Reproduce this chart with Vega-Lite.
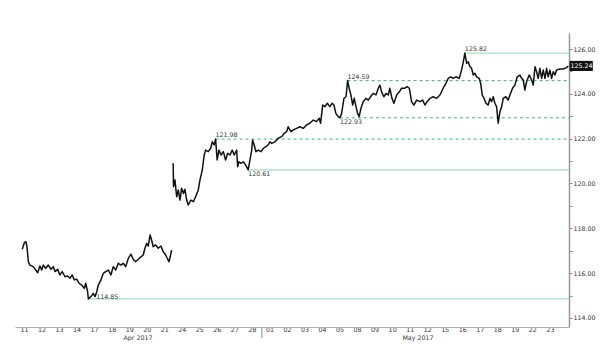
{
  "$schema": "https://vega.github.io/schema/vega-lite/v6.json",
  "width": 554,
  "height": 294,
  "autosize": "none",
  "padding": {"left": 15, "top": 33, "right": 31, "bottom": 27},
  "background": "white",
  "config": {"view": {"stroke": null}, "font": "Liberation Sans"},
  "datasets": {
    "price": [
      {"seg": 1, "t": -0.10, "p": 117.06}, {"seg": 1, "t": 0.02, "p": 117.36}, {"seg": 1, "t": 0.11, "p": 117.40}, {"seg": 1, "t": 0.17, "p": 117.18},
      {"seg": 1, "t": 0.25, "p": 116.51}, {"seg": 1, "t": 0.34, "p": 116.36}, {"seg": 1, "t": 0.53, "p": 116.29}, {"seg": 1, "t": 0.67, "p": 116.14},
      {"seg": 1, "t": 0.78, "p": 116.02}, {"seg": 1, "t": 0.91, "p": 116.32}, {"seg": 1, "t": 1.01, "p": 116.14}, {"seg": 1, "t": 1.10, "p": 116.36},
      {"seg": 1, "t": 1.24, "p": 116.22}, {"seg": 1, "t": 1.39, "p": 116.36}, {"seg": 1, "t": 1.54, "p": 116.17}, {"seg": 1, "t": 1.67, "p": 116.29},
      {"seg": 1, "t": 1.77, "p": 116.07}, {"seg": 1, "t": 1.92, "p": 116.17}, {"seg": 1, "t": 2.05, "p": 115.92}, {"seg": 1, "t": 2.18, "p": 116.07},
      {"seg": 1, "t": 2.34, "p": 115.84}, {"seg": 1, "t": 2.49, "p": 115.87}, {"seg": 1, "t": 2.62, "p": 115.77}, {"seg": 1, "t": 2.75, "p": 115.92},
      {"seg": 1, "t": 2.87, "p": 115.70}, {"seg": 1, "t": 3.01, "p": 115.73}, {"seg": 1, "t": 3.14, "p": 115.55}, {"seg": 1, "t": 3.29, "p": 115.47},
      {"seg": 1, "t": 3.44, "p": 115.32}, {"seg": 1, "t": 3.52, "p": 115.55}, {"seg": 1, "t": 3.63, "p": 115.17}, {"seg": 1, "t": 3.67, "p": 114.85},
      {"seg": 1, "t": 3.82, "p": 114.95}, {"seg": 1, "t": 3.95, "p": 115.10}, {"seg": 1, "t": 4.05, "p": 114.95}, {"seg": 1, "t": 4.15, "p": 115.17},
      {"seg": 1, "t": 4.24, "p": 115.47}, {"seg": 1, "t": 4.39, "p": 115.70}, {"seg": 1, "t": 4.52, "p": 115.99}, {"seg": 1, "t": 4.66, "p": 116.07},
      {"seg": 1, "t": 4.81, "p": 116.14}, {"seg": 1, "t": 4.96, "p": 115.92}, {"seg": 1, "t": 5.09, "p": 116.29}, {"seg": 1, "t": 5.23, "p": 116.14},
      {"seg": 1, "t": 5.38, "p": 116.44}, {"seg": 1, "t": 5.53, "p": 116.36}, {"seg": 1, "t": 5.66, "p": 116.44}, {"seg": 1, "t": 5.80, "p": 116.29},
      {"seg": 1, "t": 5.95, "p": 116.66}, {"seg": 1, "t": 6.10, "p": 116.85}, {"seg": 1, "t": 6.23, "p": 116.62}, {"seg": 1, "t": 6.37, "p": 116.51},
      {"seg": 1, "t": 6.52, "p": 116.62}, {"seg": 1, "t": 6.67, "p": 116.73}, {"seg": 1, "t": 6.80, "p": 116.81}, {"seg": 1, "t": 6.90, "p": 117.11},
      {"seg": 1, "t": 7.00, "p": 117.33}, {"seg": 1, "t": 7.09, "p": 117.21}, {"seg": 1, "t": 7.19, "p": 117.70}, {"seg": 1, "t": 7.28, "p": 117.48},
      {"seg": 1, "t": 7.37, "p": 117.18}, {"seg": 1, "t": 7.51, "p": 117.26}, {"seg": 1, "t": 7.66, "p": 117.11}, {"seg": 1, "t": 7.81, "p": 117.21},
      {"seg": 1, "t": 7.94, "p": 116.96}, {"seg": 1, "t": 8.08, "p": 116.81}, {"seg": 1, "t": 8.20, "p": 116.62}, {"seg": 1, "t": 8.27, "p": 116.51},
      {"seg": 1, "t": 8.34, "p": 116.73}, {"seg": 1, "t": 8.42, "p": 117.03},
      {"seg": 2, "t": 8.51, "p": 120.90}, {"seg": 2, "t": 8.53, "p": 119.86}, {"seg": 2, "t": 8.61, "p": 120.16}, {"seg": 2, "t": 8.71, "p": 119.41},
      {"seg": 2, "t": 8.80, "p": 119.71}, {"seg": 2, "t": 8.90, "p": 119.26}, {"seg": 2, "t": 8.99, "p": 119.79}, {"seg": 2, "t": 9.09, "p": 119.56},
      {"seg": 2, "t": 9.18, "p": 119.74}, {"seg": 2, "t": 9.28, "p": 119.26}, {"seg": 2, "t": 9.37, "p": 119.04}, {"seg": 2, "t": 9.52, "p": 119.26},
      {"seg": 2, "t": 9.66, "p": 119.19}, {"seg": 2, "t": 9.79, "p": 119.41}, {"seg": 2, "t": 9.94, "p": 119.71}, {"seg": 2, "t": 10.04, "p": 120.16},
      {"seg": 2, "t": 10.17, "p": 120.60}, {"seg": 2, "t": 10.28, "p": 121.27}, {"seg": 2, "t": 10.36, "p": 121.49}, {"seg": 2, "t": 10.51, "p": 121.42},
      {"seg": 2, "t": 10.65, "p": 121.57}, {"seg": 2, "t": 10.74, "p": 121.86}, {"seg": 2, "t": 10.85, "p": 121.72}, {"seg": 2, "t": 10.93, "p": 121.98},
      {"seg": 2, "t": 11.02, "p": 121.05}, {"seg": 2, "t": 11.12, "p": 121.49}, {"seg": 2, "t": 11.24, "p": 121.27}, {"seg": 2, "t": 11.37, "p": 121.42},
      {"seg": 2, "t": 11.50, "p": 121.05}, {"seg": 2, "t": 11.62, "p": 121.35}, {"seg": 2, "t": 11.75, "p": 121.27}, {"seg": 2, "t": 11.88, "p": 121.49},
      {"seg": 2, "t": 11.99, "p": 121.27}, {"seg": 2, "t": 12.13, "p": 121.49}, {"seg": 2, "t": 12.19, "p": 120.75}, {"seg": 2, "t": 12.26, "p": 120.97},
      {"seg": 2, "t": 12.38, "p": 120.90}, {"seg": 2, "t": 12.51, "p": 120.97}, {"seg": 2, "t": 12.64, "p": 120.83}, {"seg": 2, "t": 12.79, "p": 120.61},
      {"seg": 2, "t": 12.89, "p": 121.05}, {"seg": 2, "t": 12.99, "p": 121.49}, {"seg": 2, "t": 13.04, "p": 121.94}, {"seg": 2, "t": 13.13, "p": 121.72},
      {"seg": 2, "t": 13.23, "p": 121.42}, {"seg": 2, "t": 13.36, "p": 121.49}, {"seg": 2, "t": 13.52, "p": 121.42}, {"seg": 2, "t": 13.65, "p": 121.57},
      {"seg": 2, "t": 13.79, "p": 121.64}, {"seg": 2, "t": 13.93, "p": 121.72}, {"seg": 2, "t": 14.03, "p": 121.86}, {"seg": 2, "t": 14.13, "p": 121.79},
      {"seg": 2, "t": 14.32, "p": 121.86}, {"seg": 2, "t": 14.50, "p": 122.02}, {"seg": 2, "t": 14.70, "p": 122.09}, {"seg": 2, "t": 14.85, "p": 122.24},
      {"seg": 2, "t": 14.98, "p": 122.31}, {"seg": 2, "t": 15.07, "p": 122.53}, {"seg": 2, "t": 15.23, "p": 122.31}, {"seg": 2, "t": 15.36, "p": 122.39},
      {"seg": 2, "t": 15.55, "p": 122.46}, {"seg": 2, "t": 15.74, "p": 122.53}, {"seg": 2, "t": 15.93, "p": 122.46}, {"seg": 2, "t": 16.12, "p": 122.61},
      {"seg": 2, "t": 16.31, "p": 122.69}, {"seg": 2, "t": 16.50, "p": 122.83}, {"seg": 2, "t": 16.69, "p": 122.76}, {"seg": 2, "t": 16.84, "p": 122.91},
      {"seg": 2, "t": 16.92, "p": 122.69}, {"seg": 2, "t": 17.04, "p": 123.50}, {"seg": 2, "t": 17.17, "p": 123.43}, {"seg": 2, "t": 17.30, "p": 123.58},
      {"seg": 2, "t": 17.45, "p": 123.43}, {"seg": 2, "t": 17.58, "p": 123.58}, {"seg": 2, "t": 17.68, "p": 123.50}, {"seg": 2, "t": 17.79, "p": 123.13},
      {"seg": 2, "t": 17.93, "p": 122.98}, {"seg": 2, "t": 18.02, "p": 122.93}, {"seg": 2, "t": 18.12, "p": 123.13}, {"seg": 2, "t": 18.25, "p": 123.80},
      {"seg": 2, "t": 18.37, "p": 123.87}, {"seg": 2, "t": 18.46, "p": 124.59}, {"seg": 2, "t": 18.55, "p": 124.25}, {"seg": 2, "t": 18.65, "p": 123.95},
      {"seg": 2, "t": 18.75, "p": 123.50}, {"seg": 2, "t": 18.84, "p": 123.80}, {"seg": 2, "t": 18.94, "p": 123.43}, {"seg": 2, "t": 19.03, "p": 123.13},
      {"seg": 2, "t": 19.12, "p": 122.98}, {"seg": 2, "t": 19.22, "p": 123.35}, {"seg": 2, "t": 19.35, "p": 123.65}, {"seg": 2, "t": 19.51, "p": 123.80},
      {"seg": 2, "t": 19.64, "p": 123.72}, {"seg": 2, "t": 19.77, "p": 123.87}, {"seg": 2, "t": 19.92, "p": 124.02}, {"seg": 2, "t": 20.08, "p": 123.95},
      {"seg": 2, "t": 20.21, "p": 124.25}, {"seg": 2, "t": 20.30, "p": 124.39}, {"seg": 2, "t": 20.40, "p": 124.09}, {"seg": 2, "t": 20.53, "p": 123.87},
      {"seg": 2, "t": 20.65, "p": 124.02}, {"seg": 2, "t": 20.78, "p": 123.95}, {"seg": 2, "t": 20.87, "p": 124.25}, {"seg": 2, "t": 20.99, "p": 123.80},
      {"seg": 2, "t": 21.10, "p": 123.58}, {"seg": 2, "t": 21.26, "p": 123.95}, {"seg": 2, "t": 21.41, "p": 124.09}, {"seg": 2, "t": 21.54, "p": 124.25},
      {"seg": 2, "t": 21.73, "p": 124.25}, {"seg": 2, "t": 21.86, "p": 124.32}, {"seg": 2, "t": 21.98, "p": 124.25}, {"seg": 2, "t": 22.11, "p": 123.65},
      {"seg": 2, "t": 22.24, "p": 123.50}, {"seg": 2, "t": 22.40, "p": 123.72}, {"seg": 2, "t": 22.59, "p": 123.65}, {"seg": 2, "t": 22.74, "p": 123.72},
      {"seg": 2, "t": 22.87, "p": 123.50}, {"seg": 2, "t": 23.00, "p": 123.65}, {"seg": 2, "t": 23.16, "p": 123.80}, {"seg": 2, "t": 23.34, "p": 123.87},
      {"seg": 2, "t": 23.54, "p": 123.80}, {"seg": 2, "t": 23.73, "p": 123.95}, {"seg": 2, "t": 23.91, "p": 124.25}, {"seg": 2, "t": 24.07, "p": 124.47},
      {"seg": 2, "t": 24.20, "p": 124.69}, {"seg": 2, "t": 24.34, "p": 124.76}, {"seg": 2, "t": 24.48, "p": 124.69}, {"seg": 2, "t": 24.64, "p": 124.76},
      {"seg": 2, "t": 24.83, "p": 124.69}, {"seg": 2, "t": 24.96, "p": 125.06}, {"seg": 2, "t": 25.06, "p": 125.43}, {"seg": 2, "t": 25.15, "p": 125.82},
      {"seg": 2, "t": 25.25, "p": 125.36}, {"seg": 2, "t": 25.34, "p": 125.43}, {"seg": 2, "t": 25.44, "p": 125.21}, {"seg": 2, "t": 25.53, "p": 125.14},
      {"seg": 2, "t": 25.63, "p": 124.84}, {"seg": 2, "t": 25.72, "p": 124.92}, {"seg": 2, "t": 25.82, "p": 124.76}, {"seg": 2, "t": 25.97, "p": 124.69},
      {"seg": 2, "t": 26.05, "p": 124.47}, {"seg": 2, "t": 26.14, "p": 123.95}, {"seg": 2, "t": 26.24, "p": 123.80}, {"seg": 2, "t": 26.35, "p": 123.58},
      {"seg": 2, "t": 26.48, "p": 123.50}, {"seg": 2, "t": 26.58, "p": 123.80}, {"seg": 2, "t": 26.67, "p": 123.65}, {"seg": 2, "t": 26.77, "p": 123.87},
      {"seg": 2, "t": 26.86, "p": 123.58}, {"seg": 2, "t": 26.96, "p": 123.43}, {"seg": 2, "t": 27.05, "p": 122.69}, {"seg": 2, "t": 27.15, "p": 123.20},
      {"seg": 2, "t": 27.25, "p": 123.43}, {"seg": 2, "t": 27.34, "p": 123.80}, {"seg": 2, "t": 27.49, "p": 123.87}, {"seg": 2, "t": 27.62, "p": 123.72},
      {"seg": 2, "t": 27.72, "p": 123.95}, {"seg": 2, "t": 27.87, "p": 124.25}, {"seg": 2, "t": 28.00, "p": 124.39}, {"seg": 2, "t": 28.14, "p": 124.76},
      {"seg": 2, "t": 28.29, "p": 124.84}, {"seg": 2, "t": 28.39, "p": 124.69}, {"seg": 2, "t": 28.48, "p": 124.62}, {"seg": 2, "t": 28.57, "p": 124.17},
      {"seg": 2, "t": 28.67, "p": 124.54}, {"seg": 2, "t": 28.82, "p": 124.84}, {"seg": 2, "t": 28.96, "p": 124.62}, {"seg": 2, "t": 29.05, "p": 124.39},
      {"seg": 2, "t": 29.15, "p": 125.21}, {"seg": 2, "t": 29.24, "p": 124.99}, {"seg": 2, "t": 29.33, "p": 124.69}, {"seg": 2, "t": 29.43, "p": 125.14},
      {"seg": 2, "t": 29.53, "p": 124.69}, {"seg": 2, "t": 29.62, "p": 125.06}, {"seg": 2, "t": 29.72, "p": 124.69}, {"seg": 2, "t": 29.81, "p": 125.14},
      {"seg": 2, "t": 29.90, "p": 124.76}, {"seg": 2, "t": 30.00, "p": 125.06}, {"seg": 2, "t": 30.10, "p": 124.69}, {"seg": 2, "t": 30.19, "p": 124.99},
      {"seg": 2, "t": 30.29, "p": 124.84}, {"seg": 2, "t": 30.38, "p": 125.06}, {"seg": 2, "t": 30.57, "p": 125.11}, {"seg": 2, "t": 30.76, "p": 125.11},
      {"seg": 2, "t": 30.95, "p": 125.17}, {"seg": 2, "t": 31.05, "p": 125.24}
    ],
    "levels": [
      {"p": 125.82, "t": 25.15, "t1": 31.09, "style": "solid", "pos": "above", "label": "125.82"},
      {"p": 124.59, "t": 18.46, "t1": 31.09, "style": "dashed", "pos": "above", "label": "124.59"},
      {"p": 122.93, "t": 18.02, "t1": 31.09, "style": "dashed", "pos": "below", "label": "122.93"},
      {"p": 121.98, "t": 10.93, "t1": 31.09, "style": "dashed", "pos": "above", "label": "121.98"},
      {"p": 120.61, "t": 12.79, "t1": 31.09, "style": "solid", "pos": "below", "label": "120.61"},
      {"p": 114.85, "t": 3.67, "t1": 31.09, "style": "solid", "pos": "right", "label": "114.85"}
    ],
    "months": [
      {"t": 6.5, "p": 113.12, "label": "Apr 2017"},
      {"t": 22.47, "p": 113.12, "label": "May 2017"}
    ],
    "sep": [{"t": 13.57, "p": 113.598, "p2": 113.1}],
    "lastbox": [{"t": 31.12, "t1": 32.45, "p": 125.02, "p2": 125.47}],
    "lastlab": [{"t": 31.12, "p": 125.24, "label": "125.24"}]
  },
  "encoding": {
    "x": {"field": "t", "type": "quantitative", "scale": {"domain": [-0.513, 31.09], "nice": false, "zero": false},
          "axis": {"title": null, "values": [0,1,2,3,4,5,6,7,8,9,10,11,12,13,14,15,16,17,18,19,20,21,22,23,24,25,26,27,28,29,30],
                   "labelExpr": "['11','12','13','14','17','18','19','20','21','24','25','26','27','28','01','02','03','04','05','08','09','10','11','12','15','16','17','18','19','22','23'][datum.value]",
                   "labelOverlap": false, "labelBound": false, "labelFlush": false,
                   "ticks": false, "labelPadding": -1, "labelFontSize": 6.3, "labelColor": "#333", "labelFont": "DejaVu Sans",
                   "domainColor": "#b0b0b0", "domainWidth": 1, "grid": false}},
    "y": {"field": "p", "type": "quantitative", "scale": {"domain": [113.598, 126.714], "nice": false, "zero": false},
          "axis": {"title": null, "orient": "right", "values": [114,115,116,117,118,119,120,121,122,123,124,125,126],
                   "labelExpr": "datum.value % 2 == 0 ? format(datum.value, '.2f') : ''",
                   "labelOverlap": false,
                   "tickSize": 3, "tickColor": "#888", "labelPadding": 1, "labelFontSize": 6.3, "labelColor": "#333", "labelFont": "DejaVu Sans",
                   "domainColor": "#999", "domainWidth": 1.5, "grid": false}}
  },
  "layer": [
    {
      "data": {"name": "levels"},
      "transform": [{"filter": "datum.style == 'solid'"}],
      "mark": {"type": "rule", "color": "#a6dcc8", "strokeWidth": 1.2},
      "encoding": {"x2": {"field": "t1"}}
    },
    {
      "data": {"name": "levels"},
      "transform": [{"filter": "datum.style == 'dashed'"}],
      "mark": {"type": "rule", "color": "#3bb57c", "strokeWidth": 1, "strokeDash": [3, 3]},
      "encoding": {"x2": {"field": "t1"}}
    },
    {
      "data": {"name": "sep"},
      "mark": {"type": "rule", "color": "#b0b0b0", "strokeWidth": 1.5},
      "encoding": {"y2": {"field": "p2"}}
    },
    {
      "data": {"name": "price"},
      "mark": {"type": "line", "color": "#111", "strokeWidth": 1.5, "strokeJoin": "round"},
      "encoding": {"detail": {"field": "seg", "type": "nominal"}}
    },
    {
      "data": {"name": "levels"},
      "transform": [{"filter": "datum.pos == 'above'"}],
      "mark": {"type": "text", "align": "left", "baseline": "bottom", "dy": -1, "fontSize": 6.3, "font": "DejaVu Sans", "color": "#333"},
      "encoding": {"text": {"field": "label"}}
    },
    {
      "data": {"name": "levels"},
      "transform": [{"filter": "datum.pos == 'below'"}],
      "mark": {"type": "text", "align": "left", "baseline": "top", "dy": 1, "fontSize": 6.3, "font": "DejaVu Sans", "color": "#333"},
      "encoding": {"text": {"field": "label"}}
    },
    {
      "data": {"name": "levels"},
      "transform": [{"filter": "datum.pos == 'right'"}],
      "mark": {"type": "text", "align": "left", "baseline": "bottom", "dx": 8, "dy": 1, "fontSize": 6.3, "font": "DejaVu Sans", "color": "#333"},
      "encoding": {"text": {"field": "label"}}
    },
    {
      "data": {"name": "months"},
      "mark": {"type": "text", "align": "center", "baseline": "middle", "fontSize": 6.3, "font": "DejaVu Sans", "color": "#333"},
      "encoding": {"text": {"field": "label"}}
    },
    {
      "data": {"name": "lastbox"},
      "mark": {"type": "rect", "color": "#111"},
      "encoding": {"x2": {"field": "t1"}, "y2": {"field": "p2"}}
    },
    {
      "data": {"name": "lastlab"},
      "mark": {"type": "text", "align": "left", "baseline": "middle", "dx": 1, "fontSize": 6.3, "font": "DejaVu Sans", "color": "white"},
      "encoding": {"text": {"field": "label"}}
    }
  ]
}
